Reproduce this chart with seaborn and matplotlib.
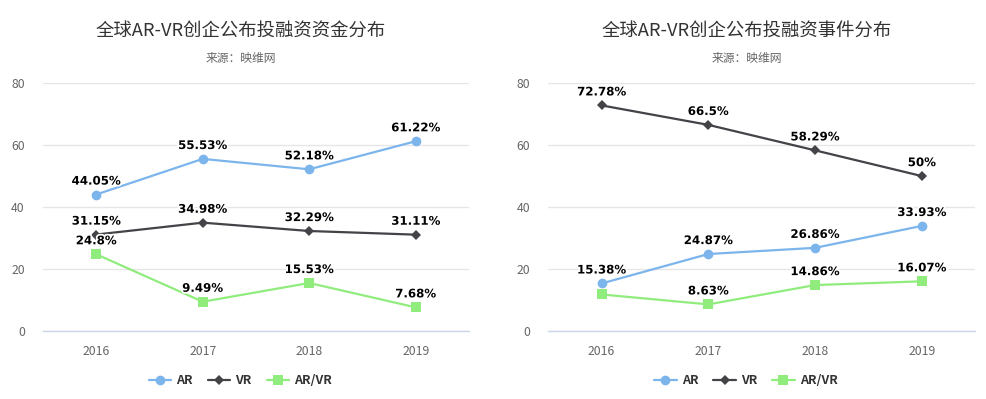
import pandas as pd
import matplotlib
matplotlib.use("Agg")
import matplotlib.pyplot as plt
import matplotlib.patheffects as pe
import seaborn as sns

years = ["2016", "2017", "2018", "2019"]
series_names = ["AR", "VR", "AR/VR"]

# 投融资资金分布 (%)
fund_ar = [44.05, 55.53, 52.18, 61.22]
fund_vr = [31.15, 34.98, 32.29, 31.11]
fund_arvr = [24.8, 9.49, 15.53, 7.68]

# 投融资事件分布 (%)
event_ar = [15.38, 24.87, 26.86, 33.93]
event_vr = [72.78, 66.5, 58.29, 50]
event_arvr = [11.84, 8.63, 14.86, 16.07]

titles = ["全球AR-VR创企公布投融资资金分布", "全球AR-VR创企公布投融资事件分布"]
subtitle = "来源：映维网"

# labels hidden in the reference (overlapping ones)
hidden = {1: [("AR/VR", 0)]}

colors = {"AR": "#7cb5ec", "VR": "#434348", "AR/VR": "#90ed7d"}
markers = {"AR": "o", "VR": "D", "AR/VR": "s"}
msizes = {"AR": 7, "VR": 5, "AR/VR": 7}


def to_long(ar, vr, arvr):
    rows = []
    for name, vals in zip(series_names, [ar, vr, arvr]):
        for i, v in enumerate(vals):
            rows.append({"x": i, "value": v, "series": name})
    return pd.DataFrame(rows)


sns.set_theme(style="white")
plt.rcParams["font.family"] = ["Noto Sans CJK SC", "DejaVu Sans"]

fig = plt.figure(figsize=(9.86, 3.99), dpi=100)
positions = [[0.0436, 0.170, 0.432, 0.622], [0.556, 0.170, 0.433, 0.622]]
datasets = [to_long(fund_ar, fund_vr, fund_arvr), to_long(event_ar, event_vr, event_arvr)]

for k, (pos, df) in enumerate(zip(positions, datasets)):
    ax = fig.add_axes(pos)
    for name in series_names:
        sub = df[df["series"] == name]
        sns.lineplot(data=sub, x="x", y="value", ax=ax, color=colors[name],
                     marker=markers[name], markersize=msizes[name],
                     markeredgewidth=0, linewidth=1.6, label=name, zorder=3)
        for _, r in sub.iterrows():
            if (name, int(r["x"])) in hidden.get(k, []):
                continue
            ax.annotate(f"{r['value']:g}%", (r["x"], r["value"]),
                        xytext=(0, 5), textcoords="offset points",
                        ha="center", va="bottom", fontsize=8.5,
                        fontweight="bold", color="black", family="DejaVu Sans",
                        zorder=5,
                        path_effects=[pe.withStroke(linewidth=2.5, foreground="white")])

    ax.set_xlim(-0.5, 3.5)
    ax.set_ylim(0, 80)
    ax.set_yticks([0, 20, 40, 60, 80])
    ax.set_xticks(range(4))
    ax.set_xticklabels(years)
    ax.set_xticks([-0.5, 0.5, 1.5, 2.5, 3.5], minor=True)
    ax.tick_params(axis="x", which="major", length=0, pad=10, labelsize=8.8, labelcolor="#666666")
    ax.tick_params(axis="x", which="minor", length=9, width=1, color="#ccd6eb", direction="out")
    ax.tick_params(axis="y", length=0, labelsize=8.8, labelcolor="#666666")
    ax.yaxis.set_tick_params(pad=13)
    ax.grid(axis="y", color="#e6e6e6", linewidth=1)
    ax.set_axisbelow(True)
    for s in ["top", "right", "left"]:
        ax.spines[s].set_visible(False)
    ax.spines["bottom"].set_color("#ccd6eb")
    ax.spines["bottom"].set_linewidth(1)
    ax.set_xlabel("")
    ax.set_ylabel("")

    ax.text(0.465, 1.21, titles[k], transform=ax.transAxes, ha="center", va="center",
            fontsize=13.2, color="#333333")
    ax.text(0.465, 1.10, subtitle, transform=ax.transAxes, ha="center", va="center",
            fontsize=8.5, color="#666666")

    leg = ax.legend(loc="center", bbox_to_anchor=(0.463, -0.2), ncol=3, frameon=False,
                    handlelength=1.8, columnspacing=1.2, handletextpad=0.4,
                    prop={"weight": "bold", "size": 9})
    for t in leg.get_texts():
        t.set_color("#333333")

fig.savefig("out.png", dpi=100)
